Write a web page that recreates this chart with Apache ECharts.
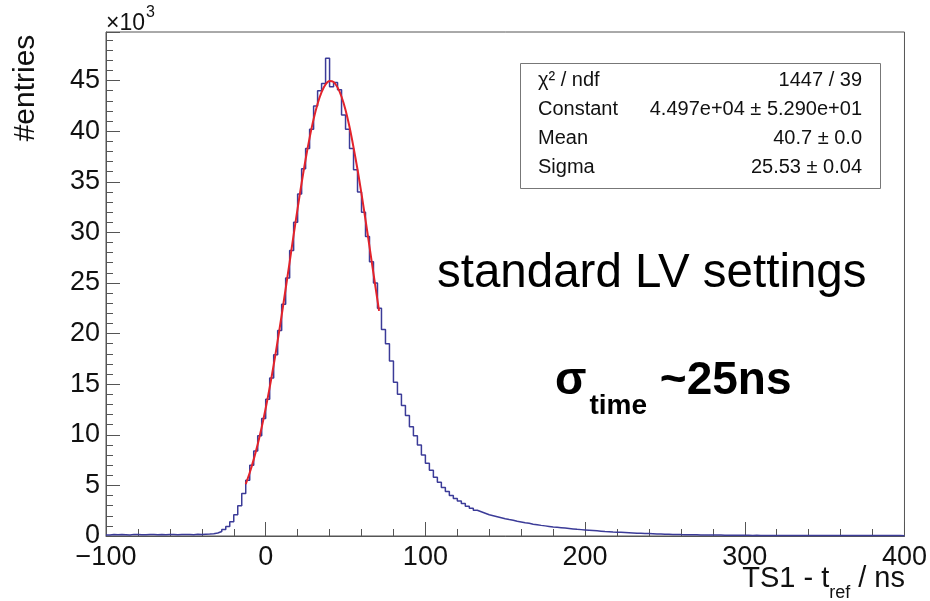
<!DOCTYPE html>
<html>
<head>
<meta charset="utf-8">
<script src="https://cdn.jsdelivr.net/npm/echarts@6.0.0/dist/echarts.min.js"></script>
<style>
  html, body { margin: 0; padding: 0; background: #fff; }
  #chart { width: 930px; height: 601px; }
</style>
</head>
<body>
<div id="chart"></div>
<script>
// ---- data ----
const binStart = -100;
const binWidth = 2.5;
// entries per 2.5 ns bin, from -100 to 400 ns
const counts = [
  110,140,120,150,130,110,160,140,120,130,
  150,140,120,160,130,140,150,120,140,160,
  150,130,170,160,180,200,230,300,450,650,
  950,1400,2100,3000,4200,5500,7000,8400,9900,11600,
  13500,15600,17900,20300,22900,25500,28200,31000,33800,36300,
  38300,40200,42500,44000,44700,47200,44400,44800,44100,41600,
  40200,38300,36200,34000,32000,29600,27100,25000,22500,20400,
  19000,17300,15200,14000,12900,11900,10800,9900,9000,8000,
  7200,6500,5800,5300,4800,4400,4000,3700,3450,3200,
  2950,2750,2550,2400,2250,2100,2000,1900,1800,1700,
  1620,1550,1450,1380,1300,1250,1170,1120,1050,1000,
  950,900,860,820,780,740,700,660,630,600,
  570,540,510,480,450,430,400,380,360,340,
  320,300,280,265,250,235,220,205,195,180,
  170,160,150,140,135,130,120,115,110,105,
  100,95,92,88,85,80,78,75,72,70,
  65,60,62,58,55,60,57,53,55,50,
  52,55,48,50,47,52,49,45,48,50,
  46,44,47,45,43,46,42,44,45,41,
  43,40,42,44,40,38,41,39,40,37
];
// red fit curve points (x in ns, entries)
const fitX = [-12.5,-10,-7.5,-5,-2.5,0,2.5,5,7.5,10,12.5,15,17.5,20,22.5,25,27.5,30,32.5,35,37.5,40,42.5,45,47.5,50,52.5,55,57.5,60,62.5,65,67.5,70,71];
const fitY = [5130,6250,7570,9060,10740,12620,14680,16900,19300,21810,24430,27070,29760,32380,34880,37230,39340,41190,42710,43850,44620,44950,44860,44330,43400,42100,40410,38400,36210,33800,31230,28600,25930,23280,22240];
// axes
const xTicks = [-100, 0, 100, 200, 300, 400];
const yTickStep = 5000;
const yMax = 49800;
// stats box
const statNames = ['\u03c7\u00b2 / ndf', 'Constant', 'Mean', 'Sigma'];
const statValues = ['1447 / 39', '4.497e+04 \u00b1 5.290e+01', '40.7 \u00b1 0.0', '25.53 \u00b1 0.04'];
// annotations
const noteText = 'standard LV settings';
const sigmaMain = '\u03c3';
const sigmaSub = 'time';
const sigmaRest = ' ~25ns';
const xTitleMain = 'TS1 - t';
const xTitleSub = 'ref';
const xTitleEnd = ' / ns';
const yTitle = '#entries';

// ---- build ----
const FONT = '"Liberation Sans", Arial, Helvetica, sans-serif';
const mctx = document.createElement('canvas').getContext('2d');
function tw(str, size, weight) {
  mctx.font = (weight || 'normal') + ' ' + size + 'px ' + FONT;
  return mctx.measureText(str).width;
}
function txt(x, y, str, size, o) {
  o = o || {};
  return {
    type: 'text', x: x, y: y, rotation: o.rotation || 0, z: 100,
    style: {
      text: str, fill: o.color || '#111',
      fontSize: size, fontFamily: FONT, fontWeight: o.weight || 'normal',
      textAlign: o.align || 'left', align: o.align || 'left',
      textVerticalAlign: 'middle', verticalAlign: 'middle'
    }
  };
}

const histData = counts.map((c, i) => [binStart + i * binWidth, c]);
histData.push([binStart + counts.length * binWidth, counts[counts.length - 1]]);
const fitData = fitX.map((x, i) => [x, fitY[i]]);

const graphics = [];
// x10^3
graphics.push(txt(106, 24, '\u00d710', 23));
graphics.push(txt(107 + tw('\u00d710', 23), 13, '3', 16));
// y title
graphics.push(txt(26, 88, yTitle, 30, { align: 'center', rotation: Math.PI / 2 }));
// x title
(function () {
  const R = 905;
  const w3 = tw(xTitleEnd, 29), w2 = tw(xTitleSub, 18), w1 = tw(xTitleMain, 29);
  graphics.push(txt(R - w3, 579, xTitleEnd, 29));
  graphics.push(txt(R - w3 - w2, 593, xTitleSub, 18));
  graphics.push(txt(R - w3 - w2 - w1, 579, xTitleMain, 29));
})();
// stats box
graphics.push({
  type: 'rect', z: 90,
  shape: { x: 520.5, y: 63.5, width: 360, height: 125 },
  style: { fill: '#fff', stroke: '#777', lineWidth: 1 }
});
const rowY = [80, 109, 138, 167];
statNames.forEach((n, i) => {
  graphics.push(txt(538, rowY[i], n, 20));
  graphics.push(txt(862, rowY[i], statValues[i], 20, { align: 'right' }));
});
// annotations
graphics.push(txt(437, 274, noteText, 47.5, { color: '#000' }));
(function () {
  const x0 = 555;
  const w1 = tw(sigmaMain, 46, 'bold');
  const w2 = tw(sigmaSub, 28, 'bold');
  graphics.push(txt(x0, 381, sigmaMain, 46, { weight: 'bold', color: '#000' }));
  graphics.push(txt(x0 + w1 + 3, 406, sigmaSub, 28, { weight: 'bold', color: '#000' }));
  graphics.push(txt(x0 + w1 + 3 + w2, 381, sigmaRest, 46, { weight: 'bold', color: '#000' }));
})();

const axisColor = '#555';
const chart = echarts.init(document.getElementById('chart'), null, { renderer: 'canvas' });
chart.setOption({
  animation: false,
  backgroundColor: '#fff',
  grid: { left: 106, right: 24, top: 32, bottom: 65, show: true, borderColor: axisColor, borderWidth: 1, backgroundColor: 'transparent' },
  xAxis: {
    type: 'value', min: xTicks[0], max: xTicks[xTicks.length - 1], interval: 100,
    axisLine: { show: true, onZero: false, lineStyle: { color: axisColor, width: 1 } },
    axisTick: { show: true, inside: true, length: 14, lineStyle: { color: axisColor } },
    minorTick: { show: true, splitNumber: 5, length: 7, lineStyle: { color: axisColor } },
    splitLine: { show: false },
    axisLabel: {
      fontSize: 27, fontFamily: FONT, color: '#111', margin: 8,
      formatter: v => (v < 0 ? '\u2212' + Math.abs(v) : String(v))
    }
  },
  yAxis: {
    type: 'value', min: 0, max: yMax, interval: yTickStep,
    axisLine: { show: true, onZero: false, lineStyle: { color: axisColor, width: 1 } },
    axisTick: { show: true, inside: true, length: 14, lineStyle: { color: axisColor } },
    minorTick: { show: true, splitNumber: 5, length: 7, lineStyle: { color: axisColor } },
    splitLine: { show: false },
    axisLabel: {
      fontSize: 27, fontFamily: FONT, color: '#111', margin: 6, showMaxLabel: false,
      formatter: v => (v % yTickStep === 0 ? String(v / 1000) : '')
    }
  },
  graphic: graphics,
  series: [
    {
      type: 'line', step: 'end', data: histData, symbol: 'none',
      lineStyle: { color: '#3b3b98', width: 1.5 }, z: 3
    },
    {
      type: 'line', data: fitData, symbol: 'none', smooth: 0.3,
      lineStyle: { color: '#e3232b', width: 2 }, z: 4
    }
  ]
});
</script>
</body>
</html>
